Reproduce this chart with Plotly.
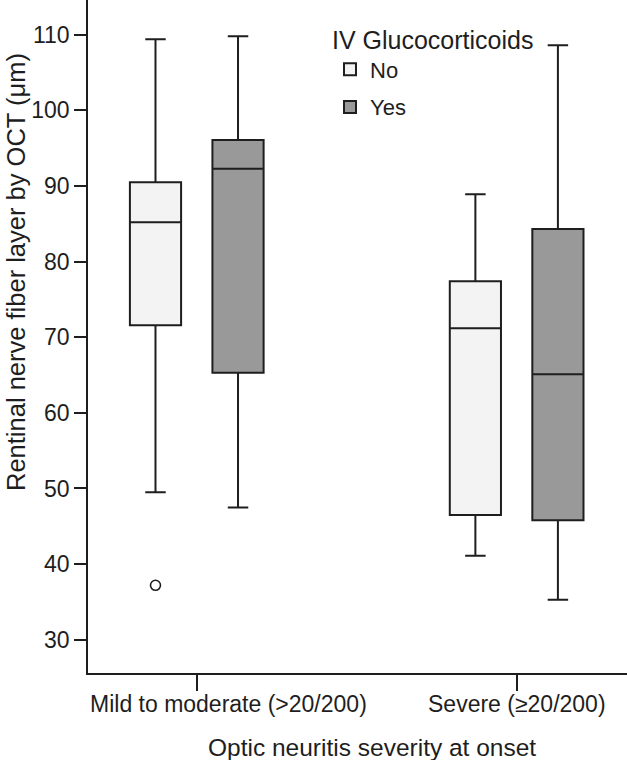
import plotly.graph_objects as go

categories = ["Mild to moderate (>20/200)", "Severe (≥20/200)"]
groups = ["No", "Yes"]

# Precomputed box statistics (µm)
no_upper = [109.4, 88.9]
no_q3 = [90.5, 77.4]
no_median = [85.2, 71.2]
no_q1 = [71.6, 46.5]
no_lower = [49.5, 41.1]

yes_upper = [109.8, 108.6]
yes_q3 = [96.1, 84.3]
yes_median = [92.3, 65.1]
yes_q1 = [65.3, 45.8]
yes_lower = [47.5, 35.3]

outlier_cat = [0]
outlier_group = ["No"]
outlier_val = [37.2]

y_ticks = [30, 40, 50, 60, 70, 80, 90, 100, 110]

x_title = "Optic neuritis severity at onset"
y_title = "Rentinal nerve fiber layer by OCT (μm)"
legend_title = "IV Glucocorticoids"

FONT = "Liberation Sans, Arial, sans-serif"
INK = "#1e1e1e"
OFFSET = 0.129
WIDTH = 0.16
fills = {"No": "#f3f3f3", "Yes": "#999999"}
offs = {"No": -OFFSET, "Yes": OFFSET}
stats = {
    "No": (no_lower, no_q1, no_median, no_q3, no_upper),
    "Yes": (yes_lower, yes_q1, yes_median, yes_q3, yes_upper),
}

fig = go.Figure()
for g in groups:
    lo, q1, med, q3, hi = stats[g]
    xs = [i + offs[g] for i in range(len(categories))]
    fig.add_trace(go.Box(
        name=g, x=xs, lowerfence=lo, q1=q1, median=med, q3=q3, upperfence=hi,
        width=WIDTH, whiskerwidth=0.4, fillcolor=fills[g], legendgroup=g,
        line=dict(color=INK, width=2), boxpoints=False, hoverinfo="skip",
    ))

fig.add_trace(go.Scatter(
    x=[c + offs[g] for c, g in zip(outlier_cat, outlier_group)], y=outlier_val,
    mode="markers", showlegend=False,
    marker=dict(symbol="circle-open", size=10, color=INK, line=dict(width=1.6)),
))

W, H = 627, 760
ML, MB = 88, 87
PW, PH = W - ML, H - MB
XMIN = -0.34

# Category labels: kept inside the axis extent (first one is pushed right, as in the source)
tick_label_annotations = []
for i, cat in enumerate(categories):
    if i == 0:
        pos = dict(xref="paper", x=0.0, xanchor="left")
    else:
        pos = dict(xref="x", x=i, xanchor="center")
    tick_label_annotations.append(dict(
        text=cat, yref="paper", y=-(704 - PH) / PH, yanchor="middle",
        showarrow=False, font=dict(size=23, family=FONT, color=INK), **pos))

fig.update_layout(
    width=W, height=H,
    margin=dict(l=ML, r=0, t=0, b=MB, autoexpand=False),
    paper_bgcolor="white", plot_bgcolor="white",
    font=dict(family=FONT, size=23, color=INK),
    showlegend=True,
    legend=dict(
        title=dict(text=legend_title, font=dict(size=25, family=FONT, color=INK)),
        x=(330 - ML) / PW, y=1 - 16 / PH, xanchor="left", yanchor="top",
        bgcolor="rgba(0,0,0,0)", font=dict(size=22, family=FONT, color=INK),
        traceorder="grouped", tracegroupgap=6, itemwidth=30,
    ),
    annotations=tick_label_annotations + [
        dict(text=x_title, xref="paper", yref="paper",
             x=(372 - ML) / PW, y=-(747 - PH) / PH, xanchor="center", yanchor="middle",
             showarrow=False, font=dict(size=24.5, family=FONT, color=INK)),
        dict(text=y_title, xref="paper", yref="paper", textangle=-90,
             x=(16 - ML) / PW, y=1 - 272 / PH, xanchor="center", yanchor="middle",
             showarrow=False, font=dict(size=25.5, family=FONT, color=INK)),
    ],
)
fig.update_xaxes(
    range=[XMIN, 1.345], tickvals=list(range(len(categories))), showticklabels=False,
    ticks="outside", ticklen=16, tickwidth=1.5, tickcolor=INK, automargin=False,
    showline=True, linecolor=INK, linewidth=1.5, showgrid=False, zeroline=False,
)
fig.update_yaxes(
    range=[25.6, 114.6], tickvals=y_ticks, automargin=False,
    ticks="outside", ticklen=12, tickwidth=1.5, tickcolor=INK, ticklabelstandoff=0,
    showline=True, linecolor=INK, linewidth=1.5, showgrid=False, zeroline=False,
    tickfont=dict(size=23, family=FONT, color=INK),
)

fig.write_html("out.html", config={"displayModeBar": False},
               post_script="document.body.style.margin='0';")
